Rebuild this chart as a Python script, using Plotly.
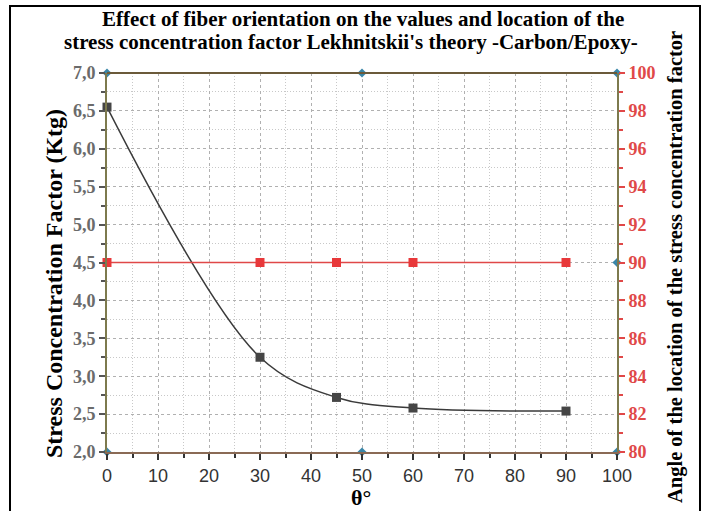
import plotly.graph_objects as go

theta = [0, 30, 45, 60, 90]
kt = [6.55, 3.25, 2.72, 2.58, 2.54]
angle_x = [0, 30, 45, 60, 90]
angle = [90, 90, 90, 90, 90]

deco_x = [0, 50, 100, 0, 50, 100, 100]
deco_y = [7.0, 7.0, 7.0, 2.0, 2.0, 2.0, 4.5]
green_x = [0]
green_y = [4.5]

title_lines = ["Effect of fiber orientation on the values and location of the",
               "stress concentration factor Lekhnitskii's theory -Carbon/Epoxy-"]
y1_title = "Stress Concentration Factor (Ktg)"
y2_title = "Angle of the location of the stress concentration factor"
x_title = "θ°"

serif = "Liberation Serif"
axcol = "#7d7a4e"

W0, W1, H0, H1 = 107, 617, 73, 452


def px(x):
    return (x - W0) / (W1 - W0)


def py(y):
    return (H1 - y) / (H1 - H0)


fig = go.Figure()
fig.add_trace(go.Scatter(x=angle_x, y=angle, yaxis="y2", mode="lines+markers",
                         line=dict(color="#e04848", width=1.6),
                         marker=dict(symbol="square", size=9, color="#e8383a"),
                         cliponaxis=False, showlegend=False))
fig.add_trace(go.Scatter(x=theta, y=kt, mode="lines+markers",
                         line=dict(color="#3a3a3a", width=1.5, shape="spline", smoothing=1.0),
                         marker=dict(symbol="square", size=9, color="#454545"),
                         cliponaxis=False, showlegend=False))
fig.add_trace(go.Scatter(x=deco_x, y=deco_y, mode="markers",
                         marker=dict(symbol="diamond", size=7, color="#3a86a8"),
                         cliponaxis=False, showlegend=False))
fig.add_trace(go.Scatter(x=green_x, y=green_y, mode="markers",
                         marker=dict(symbol="diamond", size=7, color="#3aa870"),
                         cliponaxis=False, showlegend=False))

fig.update_layout(
    width=708, height=511,
    margin=dict(l=W0, r=708 - W1, t=H0, b=511 - H1),
    paper_bgcolor="white", plot_bgcolor="white",
    separators=",.",
    annotations=[
        dict(text=title_lines[0], xref="paper", yref="paper", x=px(363), y=py(19),
             xanchor="center", yanchor="middle", showarrow=False,
             font=dict(family=serif, size=21, color="black", weight="bold")),
        dict(text=title_lines[1], xref="paper", yref="paper", x=px(351), y=py(42),
             xanchor="center", yanchor="middle", showarrow=False,
             font=dict(family=serif, size=21, color="black", weight="bold")),
        dict(text=y1_title, xref="paper", yref="paper", x=px(54), y=py(284), textangle=-90,
             xanchor="center", yanchor="middle", showarrow=False,
             font=dict(family=serif, size=24, color="black", weight="bold")),
        dict(text=y2_title, xref="paper", yref="paper", x=px(675), y=py(267), textangle=-90,
             xanchor="center", yanchor="middle", showarrow=False,
             font=dict(family=serif, size=20.5, color="black", weight="bold")),
        dict(text=x_title, xref="paper", yref="paper", x=px(361), y=py(497),
             xanchor="center", yanchor="middle", showarrow=False,
             font=dict(family=serif, size=22, color="black", weight="bold")),
    ],
    xaxis=dict(range=[0, 100], dtick=10, tick0=0, showline=True, linecolor="#8a6a55", linewidth=2,
               mirror=False, ticks="outside", ticklen=6, tickwidth=1.5, tickcolor="#333",
               tickfont=dict(family="Liberation Sans", size=18, color="#333"), automargin=False,
               showgrid=True, gridcolor="#b0b0b0", griddash="3px,3px", gridwidth=1,
               minor=dict(dtick=5, ticks="outside", ticklen=4, tickcolor="#333", showgrid=True,
                          gridcolor="#c8c8c8", griddash="1px,2px"),
               zeroline=False),
    yaxis=dict(range=[2, 7], dtick=0.5, tick0=2, tickformat=".1f", showline=True, linecolor=axcol, linewidth=2,
               ticks="outside", ticklen=6, tickwidth=1.5, tickcolor="#555", automargin=False,
               tickfont=dict(family=serif, size=18, color="#6b6b6b", weight="bold"),
               showgrid=True, gridcolor="#b0b0b0", griddash="3px,3px", gridwidth=1,
               minor=dict(dtick=0.25, ticks="outside", ticklen=4, tickcolor="#555", showgrid=True,
                          gridcolor="#c8c8c8", griddash="1px,2px"),
               zeroline=False),
    yaxis2=dict(range=[80, 100], dtick=2, tick0=80, overlaying="y", side="right", showline=True,
                linecolor=axcol, linewidth=2, ticks="outside", ticklen=6, tickwidth=1.5, tickcolor="#e04848",
                tickfont=dict(family=serif, size=18, color="#e04848", weight="bold"), automargin=False,
                showgrid=False, zeroline=False,
                minor=dict(dtick=1, ticks="outside", ticklen=4, tickcolor="#e04848")),
    shapes=[
        dict(type="line", xref="paper", yref="paper", x0=0, x1=1, y0=1, y1=1,
             line=dict(color="#6b5a3a", width=2)),
        dict(type="rect", xref="paper", yref="paper", x0=px(10), x1=px(700),
             y0=-0.3, y1=py(6), line=dict(color="black", width=2), layer="above"),
    ],
)

fig.write_html("out.html")
